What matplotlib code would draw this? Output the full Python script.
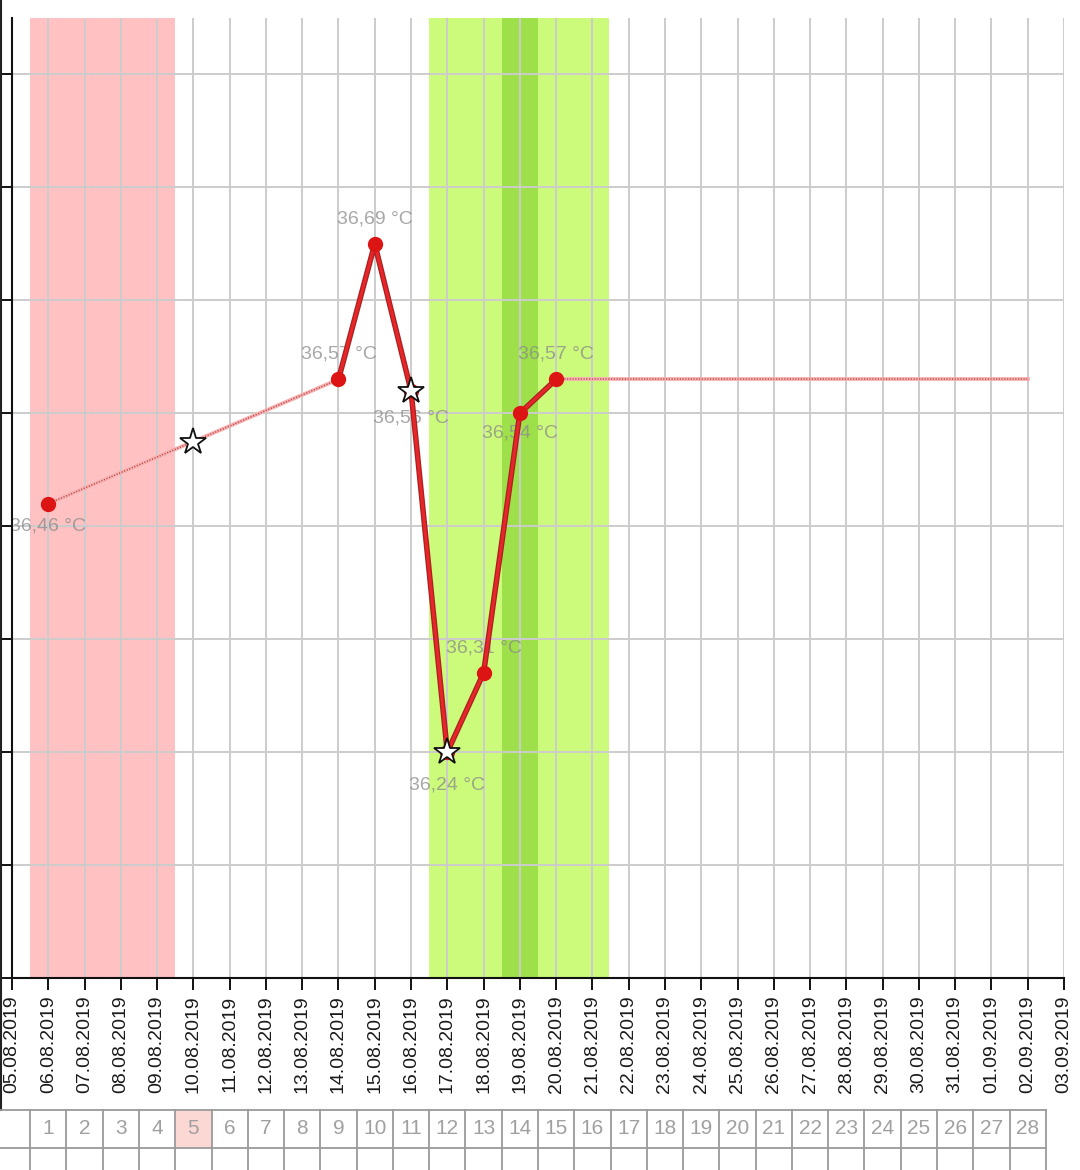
import matplotlib
matplotlib.use('Agg')
import matplotlib.pyplot as plt
import matplotlib.dates as mdates
from matplotlib import patheffects as pe, transforms
from matplotlib.lines import Line2D
from matplotlib.patches import Rectangle
from datetime import datetime

# ---------------- data ----------------
axis_dates = ['05.08.2019', '06.08.2019', '07.08.2019', '08.08.2019', '09.08.2019',
              '10.08.2019', '11.08.2019', '12.08.2019', '13.08.2019', '14.08.2019',
              '15.08.2019', '16.08.2019', '17.08.2019', '18.08.2019', '19.08.2019',
              '20.08.2019', '21.08.2019', '22.08.2019', '23.08.2019', '24.08.2019',
              '25.08.2019', '26.08.2019', '27.08.2019', '28.08.2019', '29.08.2019',
              '30.08.2019', '31.08.2019', '01.09.2019', '02.09.2019', '03.09.2019']

measured_dates = ['06.08.2019', '14.08.2019', '15.08.2019', '16.08.2019',
                  '17.08.2019', '18.08.2019', '19.08.2019', '20.08.2019']
measured_temps = [36.46, 36.57, 36.69, 36.56, 36.24, 36.31, 36.54, 36.57]
measured_labels = ['36,46 °C', '36,57 °C', '36,69 °C', '36,56 °C',
                   '36,24 °C', '36,31 °C', '36,54 °C', '36,57 °C']

solid_dates = ['14.08.2019', '15.08.2019', '16.08.2019', '17.08.2019',
               '18.08.2019', '19.08.2019', '20.08.2019']
solid_temps = [36.57, 36.69, 36.56, 36.24, 36.31, 36.54, 36.57]

gap_dates = ['06.08.2019', '14.08.2019']
gap_temps = [36.46, 36.57]

forecast_dates = ['20.08.2019', '02.09.2019']
forecast_temps = [36.57, 36.57]

star_dates = ['10.08.2019', '16.08.2019', '17.08.2019']
star_temps = [36.515, 36.56, 36.24]

period_days = ['06.08.2019', '07.08.2019', '08.08.2019', '09.08.2019']
fertile_days = ['17.08.2019', '18.08.2019', '19.08.2019', '20.08.2019', '21.08.2019']
ovulation_days = ['19.08.2019']

cycle_days = [1, 2, 3, 4, 5, 6, 7, 8, 9, 10, 11, 12, 13, 14,
              15, 16, 17, 18, 19, 20, 21, 22, 23, 24, 25, 26, 27, 28]
cycle_start = '06.08.2019'
highlight_cycle_day = 5

y_ticks = [36.04, 36.14, 36.24, 36.34, 36.44, 36.54, 36.64, 36.74, 36.84]
y_limits = (36.04, 36.89)


def dn(s):
    return mdates.date2num(datetime.strptime(s, '%d.%m.%Y'))


def dns(lst):
    return [dn(s) for s in lst]


# ---------------- figure ----------------
plt.rcParams['font.family'] = ['Liberation Sans', 'DejaVu Sans']
W, H = 1080, 1170
fig = plt.figure(figsize=(W / 100, H / 100), dpi=100)
ax = fig.add_axes([12 / W, 1 - 978 / H, (1064 - 12) / W, (978 - 18) / H])

ax.set_xlim(dn(axis_dates[0]), dn(axis_dates[-1]))
ax.set_ylim(*y_limits)

# shaded bands
ax.axvspan(dn(period_days[0]) - 0.5, dn(period_days[-1]) + 0.5,
           color='#ffc1c1', lw=0, zorder=0)
ax.axvspan(dn(fertile_days[0]) - 0.5, dn(fertile_days[-1]) + 0.45,
           color='#ccfa7a', lw=0, zorder=0)
for d in ovulation_days:
    ax.axvspan(dn(d) - 0.5, dn(d) + 0.5, color='#9ee04a', lw=0, zorder=0.1)

# grid
ax.set_xticks(dns(axis_dates))
ax.set_xticklabels(axis_dates, rotation=90, fontsize=14, color='#1a1a1a')
ax.set_yticks(y_ticks)
ax.set_yticklabels([])
ax.grid(True, color='#cccccc', lw=1.4, zorder=0.5)
ax.set_axisbelow(True)
for s in ['top', 'right']:
    ax.spines[s].set_visible(False)
for s in ['left', 'bottom']:
    ax.spines[s].set_color('#111111')
    ax.spines[s].set_linewidth(1.5)
    ax.spines[s].set_zorder(5)
ax.tick_params(axis='both', direction='out', length=8.6, width=1.4, color='#111111')
ax.tick_params(axis='x', pad=4)

# dotted connection lines
for xs, ys in [(gap_dates, gap_temps), (forecast_dates, forecast_temps)]:
    ax.plot(dns(xs), ys, color='#f6b3b3', lw=2.8, zorder=2)
    ax.plot(dns(xs), ys, color='#c44e4e', lw=1.1, ls=(0, (0.8, 1.0)), zorder=2.1)

# solid line
ax.plot(dns(solid_dates), solid_temps, color='#e8262a', lw=2.2, zorder=3,
        solid_capstyle='round', solid_joinstyle='round',
        path_effects=[pe.Stroke(linewidth=4.0, foreground='#a82020'), pe.Normal()])

# measured points
ax.plot(dns(measured_dates), measured_temps, 'o', color='#dd1414', ms=10,
        mec='#dd1414', zorder=4)

# stars
ax.plot(dns(star_dates), star_temps, '*', ms=20, mfc='white', mec='#111111',
        mew=1.3, zorder=6, clip_on=False)

# data labels
label_offsets = [-16, 18, 18, -20, -24, 18, -14, 18]
for d, t, lab, off in zip(measured_dates, measured_temps, measured_labels, label_offsets):
    ax.annotate(lab, (dn(d), t), xytext=(0, off), textcoords='offset points',
                ha='center', va='center', fontsize=14, color='#8a8a8a', alpha=0.75,
                zorder=2.5)

# left border line of the widget
fig.add_artist(Line2D([1 / W, 1 / W], [1 - 1110 / H, 1], color='#222222', lw=1.5))

# cycle-day table below the axis
trans = transforms.blended_transform_factory(ax.transData, fig.transFigure)
c0 = dn(cycle_start)
row_top = 1 - 1110 / H
row_mid = 1 - 1148 / H
row_bot = 0.0
left_x = dn(axis_dates[0]) - 12 / 36.28
right_x = c0 + cycle_days[-1] - 1 + 0.5

hd = c0 + highlight_cycle_day - 1
fig.add_artist(Rectangle((hd - 0.5, row_mid), 1, row_top - row_mid, transform=trans,
                         facecolor='#fbd8d4', edgecolor='none', zorder=1))
for yy in [row_top, row_mid]:
    fig.add_artist(Line2D([left_x, right_x], [yy, yy], transform=trans,
                          color='#9a9a9a', lw=1.3, zorder=2))
borders = [c0 - 0.5] + [c0 + k - 1 + 0.5 for k in cycle_days]
for bx in borders:
    fig.add_artist(Line2D([bx, bx], [row_bot, row_top], transform=trans,
                          color='#9a9a9a', lw=1.3, zorder=2))
for k in cycle_days:
    fig.text(c0 + k - 1, (row_top + row_mid) / 2, str(k), transform=trans,
             ha='center', va='center', fontsize=15, color='#a0a0a0')

fig.savefig('out.png', dpi=100)
